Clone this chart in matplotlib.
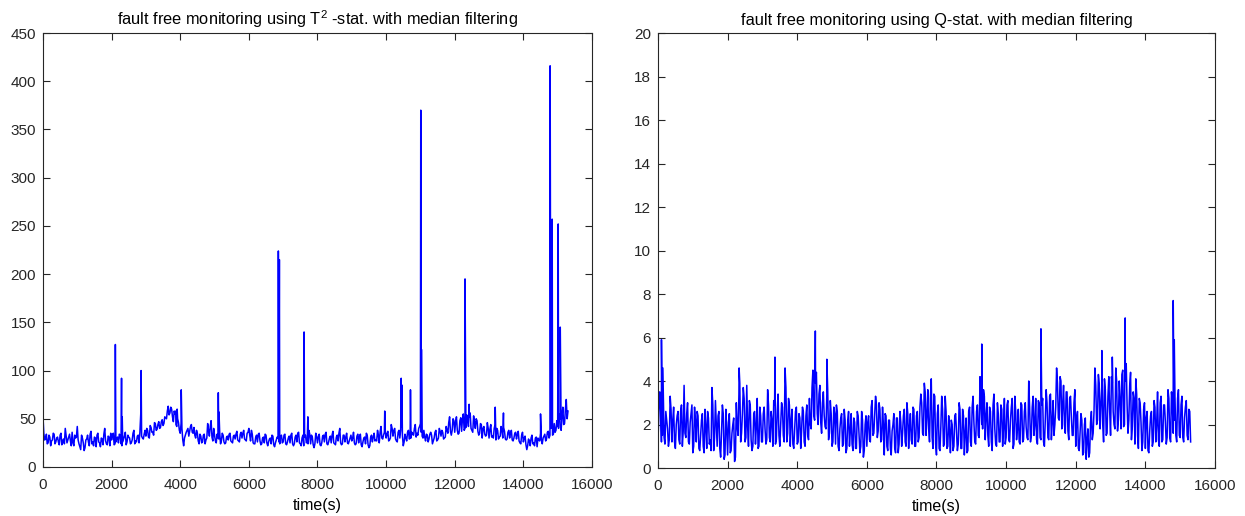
import numpy as np
import matplotlib
matplotlib.use('Agg')
import matplotlib.pyplot as plt

plt.rcParams['font.family'] = ['Liberation Sans', 'DejaVu Sans']
plt.rcParams['mathtext.fontset'] = 'custom'
plt.rcParams['mathtext.rm'] = 'Liberation Sans'

# sample step of the read-off series (s); "base" sits on 0, 50, 100 ...,
# "mid" on 25, 75, 125 ...
step = 50

# T^2 statistic (one row = 1000 s)
t2_base = [
    53, 28, 34, 25, 31, 27, 35, 24, 30, 26, 33, 23, 29, 40, 25, 31, 27, 36, 22, 30,
    42, 24, 18, 30, 17, 28, 33, 22, 37, 26, 31, 21, 35, 25, 30, 23, 40, 24, 32, 22,
    28, 35, 24, 30, 25, 33, 22, 29, 36, 26, 31, 24, 28, 38, 27, 32, 25, 55, 30, 34,
    32, 38, 30, 41, 36, 46, 38, 44, 40, 47, 43, 52, 50, 63, 56, 60, 47, 55, 42, 46,
    35, 40, 22, 33, 38, 32, 42, 36, 41, 30, 35, 24, 32, 26, 34, 28, 45, 32, 48, 27,
    33, 25, 30, 36, 27, 33, 24, 31, 28, 35, 26, 32, 29, 37, 27, 34, 30, 38, 28, 35,
    40, 27, 34, 24, 31, 26, 35, 23, 30, 25, 33, 22, 29, 24, 32, 21, 28, 30, 24, 33,
    26, 34, 23, 30, 25, 35, 22, 31, 26, 36, 24, 30, 22, 33, 26, 38, 24, 31, 20, 35,
    25, 34, 22, 32, 26, 36, 23, 30, 25, 37, 24, 31, 27, 40, 23, 33, 26, 35, 24, 30,
    27, 36, 23, 32, 25, 34, 21, 30, 24, 33, 20, 31, 26, 35, 28, 38, 25, 42, 29, 36,
    30, 37, 28, 44, 32, 40, 27, 36, 30, 42, 22, 34, 27, 38, 30, 36, 33, 44, 35, 40,
    45, 32, 38, 27, 33, 29, 36, 24, 30, 38, 28, 40, 32, 36, 30, 42, 35, 52, 33, 50,
    36, 52, 34, 48, 37, 55, 40, 54, 42, 56, 38, 53, 40, 48, 33, 45, 30, 42, 32, 46,
    30, 44, 32, 40, 28, 38, 31, 42, 30, 37, 28, 36, 30, 38, 27, 35, 29, 37, 25, 33,
    26, 32, 18, 29, 22, 33, 25, 30, 21, 28, 35, 24, 32, 27, 36, 30, 40, 33, 45, 38,
    42, 55, 38, 62, 45, 70, 58,
]
t2_mid = [
    35, 29, 24, 33, 22, 28, 34, 26, 31, 23, 35, 27, 24, 32, 28, 34, 22, 25, 33, 31,
    28, 21, 33, 25, 20, 29, 26, 34, 24, 22, 30, 33, 26, 21, 29, 34, 27, 23, 31, 35,
    33, 23, 26, 31, 34, 24, 26, 32, 23, 33, 30, 25, 35, 24, 26, 33, 36, 32, 29, 38,
    40, 31, 43, 36, 33, 45, 39, 47, 41, 49, 45, 51, 58, 54, 62, 52, 58, 44, 50, 38,
    45, 28, 30, 36, 40, 37, 44, 35, 33, 38, 27, 34, 25, 33, 24, 30, 38, 42, 31, 40,
    27, 34, 29, 24, 35, 26, 25, 32, 34, 27, 25, 33, 34, 28, 26, 36, 35, 29, 27, 36,
    33, 38, 25, 24, 33, 34, 27, 24, 31, 34, 25, 26, 30, 33, 23, 25, 31, 26, 32, 25,
    33, 24, 26, 32, 33, 24, 24, 33, 35, 25, 22, 33, 31, 25, 24, 34, 33, 23, 24, 32,
    31, 23, 25, 33, 34, 24, 26, 32, 33, 25, 23, 33, 35, 25, 24, 33, 31, 25, 27, 33,
    30, 25, 24, 34, 32, 23, 26, 31, 35, 23, 22, 33, 31, 27, 27, 33, 36, 30, 33, 38,
    34, 27, 30, 40, 38, 29, 26, 38, 38, 33, 26, 30, 36, 29, 30, 34, 40, 31, 33, 42,
    36, 30, 31, 34, 26, 34, 33, 27, 36, 27, 30, 37, 38, 29, 31, 38, 46, 37, 38, 48,
    47, 38, 35, 51, 50, 38, 41, 49, 52, 40, 36, 47, 50, 37, 35, 44, 40, 34, 33, 40,
    39, 31, 30, 44, 40, 29, 32, 38, 41, 29, 29, 38, 36, 28, 30, 36, 34, 27, 24, 36,
    30, 23, 22, 27, 30, 24, 22, 31, 30, 27, 28, 30, 34, 29, 37, 33, 42, 34, 36, 48,
    40, 50, 52, 44, 60, 50,
]
# isolated T^2 peaks
t2_spike_t = [2110, 2290, 2310, 2860, 3870, 3910, 4030, 5110, 5130, 6860, 6890,
              7610, 7720, 9960, 10440, 10460, 10710, 11010, 11030, 12300, 12420,
              13180, 13420, 14500, 14780, 14840, 15015, 15075]
t2_spike_v = [127, 92, 52, 100, 58, 60, 80, 77, 57, 224, 215,
              140, 52, 58, 92, 85, 80, 370, 122, 195, 65,
              62, 56, 55, 416, 257, 252, 145]

# Q statistic (one row = 1000 s)
q_base = [
    1.3, 3.5, 1.2, 3.6, 1.1, 2.2, 1.0, 3.3, 1.2, 2.8, 0.9, 2.4, 1.3, 2.6, 1.0, 3.8, 1.4, 3.0, 1.1, 2.5,
    0.7, 2.8, 1.2, 2.4, 0.8, 2.2, 1.0, 2.7, 0.9, 2.3, 1.3, 3.7, 0.8, 3.1, 1.0, 2.6, 0.5, 2.9, 0.4, 2.7,
    0.6, 2.5, 0.8, 2.0, 0.3, 3.0, 1.5, 3.9, 1.6, 3.7, 1.2, 3.8, 1.0, 2.9, 0.8, 2.5, 1.1, 3.2, 1.0, 2.4,
    1.2, 2.8, 1.1, 3.6, 1.4, 2.6, 1.0, 2.9, 1.3, 3.4, 1.0, 3.0, 1.5, 4.6, 1.2, 3.2, 1.0, 2.7, 0.9, 2.6,
    1.1, 2.5, 0.9, 2.8, 1.2, 2.4, 1.5, 3.2, 1.8, 4.5, 2.2, 4.4, 2.0, 3.8, 1.6, 3.5, 1.9, 3.4, 1.3, 3.1,
    1.0, 2.8, 1.1, 2.6, 0.8, 2.3, 1.0, 2.7, 0.7, 2.2, 1.0, 2.5, 0.8, 2.1, 0.9, 2.4, 0.7, 2.6, 0.5, 2.0,
    1.0, 2.4, 1.2, 3.1, 1.6, 3.3, 1.4, 3.0, 1.2, 2.8, 0.6, 2.4, 0.8, 2.2, 0.6, 2.0, 0.9, 2.3, 0.7, 2.6,
    1.0, 2.4, 1.2, 3.0, 0.9, 2.5, 1.1, 2.7, 1.0, 2.6, 1.4, 3.4, 1.6, 3.9, 1.5, 3.6, 1.2, 4.1, 0.9, 3.3,
    0.6, 2.9, 0.8, 3.3, 1.0, 3.3, 0.9, 2.4, 0.7, 2.0, 1.0, 2.5, 0.8, 3.0, 0.9, 2.7, 0.6, 2.3, 0.8, 2.8,
    1.0, 3.3, 1.2, 2.6, 1.5, 4.2, 2.0, 3.6, 1.3, 3.0, 1.0, 2.6, 0.8, 3.4, 1.1, 3.0, 1.2, 2.9, 1.0, 3.2,
    1.4, 3.1, 1.2, 2.8, 0.9, 3.3, 1.3, 2.7, 1.1, 2.9, 1.3, 3.0, 1.4, 4.0, 1.2, 2.8, 1.5, 3.2, 1.1, 3.0,
    1.3, 3.2, 1.0, 3.6, 1.4, 3.3, 1.3, 3.1, 2.0, 4.6, 2.3, 4.2, 1.8, 3.8, 1.6, 3.5, 1.3, 3.3, 1.5, 3.0,
    1.0, 2.6, 0.8, 2.5, 0.6, 2.0, 0.4, 1.8, 0.7, 2.6, 1.6, 4.6, 2.0, 4.3, 1.8, 3.8, 1.2, 3.6, 1.6, 4.2,
    1.5, 3.9, 2.0, 4.6, 1.7, 4.0, 1.8, 4.5, 2.0, 4.8, 1.6, 3.8, 1.3, 3.5, 1.1, 3.4, 0.9, 3.0, 0.8, 2.7,
    0.9, 2.6, 0.7, 2.4, 1.0, 3.1, 1.2, 3.5, 1.0, 3.3, 1.3, 2.9, 1.1, 3.6, 1.4, 3.5, 1.6, 3.3, 1.2, 3.6,
    1.4, 3.3, 1.2, 2.8, 1.5, 2.7, 1.2,
]
q_mid = [
    2.4, 2.9, 1.5, 1.4, 2.6, 1.8, 1.3, 2.7, 2.2, 1.2, 2.0, 2.6, 1.1, 2.9, 1.7, 1.6, 2.5, 1.2, 2.1, 2.9,
    1.0, 2.2, 2.6, 0.9, 1.5, 2.5, 0.7, 1.9, 2.6, 1.1, 0.8, 2.9, 1.4, 2.0, 2.4, 0.9, 1.6, 2.5, 0.6, 1.8,
    2.1, 0.7, 1.6, 2.3, 0.5, 1.9, 3.4, 1.2, 2.5, 3.2, 1.4, 1.9, 3.1, 1.3, 1.0, 2.6, 1.9, 0.9, 2.8, 1.2,
    2.5, 1.8, 1.3, 2.9, 1.2, 2.2, 3.1, 1.1, 2.6, 1.5, 2.0, 2.8, 1.2, 3.7, 1.6, 2.9, 2.2, 1.1, 1.7, 2.8,
    1.2, 2.3, 1.7, 2.6, 1.0, 2.9, 1.3, 2.0, 3.7, 2.4, 3.9, 2.5, 3.4, 2.1, 3.0, 2.4, 1.8, 3.6, 1.6, 2.5,
    1.2, 2.5, 2.9, 1.0, 1.8, 2.5, 1.1, 2.2, 0.9, 2.6, 1.7, 1.1, 2.3, 0.9, 2.6, 1.5, 1.0, 2.2, 0.8, 2.4,
    2.1, 1.3, 2.8, 1.5, 2.4, 2.9, 1.7, 2.7, 1.3, 2.0, 2.5, 1.0, 2.2, 0.9, 1.7, 2.5, 0.7, 2.3, 1.1, 2.1,
    1.6, 2.7, 1.0, 2.5, 1.9, 1.3, 2.8, 1.0, 2.4, 1.2, 2.8, 3.0, 1.5, 3.5, 2.4, 1.8, 3.2, 1.4, 3.4, 1.1,
    2.5, 0.9, 1.9, 2.7, 1.1, 2.6, 1.0, 1.7, 2.2, 0.8, 2.4, 1.6, 1.1, 2.7, 0.9, 2.4, 1.6, 0.7, 2.6, 1.2,
    2.8, 2.1, 1.1, 2.9, 1.4, 3.0, 1.8, 3.3, 2.4, 1.5, 2.8, 1.2, 2.9, 1.8, 1.0, 2.5, 1.2, 2.7, 1.9, 1.1,
    2.9, 1.3, 2.2, 3.2, 1.1, 2.6, 1.8, 1.2, 3.0, 1.2, 2.6, 1.9, 1.3, 2.8, 1.5, 3.3, 2.0, 1.3, 3.1, 1.4,
    2.9, 1.2, 2.2, 3.0, 1.3, 3.4, 2.1, 1.5, 2.8, 3.9, 2.2, 4.0, 2.9, 2.0, 3.5, 1.7, 3.2, 2.3, 1.5, 3.6,
    2.3, 0.9, 1.6, 2.2, 0.7, 2.3, 1.3, 0.5, 2.1, 1.3, 2.6, 3.8, 2.2, 3.9, 2.9, 2.0, 4.1, 1.5, 3.3, 2.6,
    4.2, 2.6, 1.8, 4.0, 2.2, 3.1, 4.3, 1.9, 4.0, 2.9, 2.2, 4.4, 1.9, 3.2, 4.1, 1.5, 3.2, 2.1, 1.2, 3.0,
    2.3, 0.8, 1.7, 2.6, 1.2, 2.8, 2.0, 1.3, 3.0, 1.2, 2.9, 2.1, 1.4, 3.2, 1.2, 3.0, 2.2, 1.5, 3.2, 1.5,
    2.9, 1.4, 2.3, 3.1, 1.3, 2.6,
]
# isolated Q peaks
q_spike_t = [100, 140, 2330, 3360, 4520, 4850, 9300, 11000, 12750, 13050, 13420, 14800, 14830]
q_spike_v = [5.9, 4.6, 4.6, 5.1, 6.3, 5.0, 5.7, 6.4, 5.4, 5.1, 6.9, 7.7, 5.9]


def merge(base, mid, spike_t, spike_v):
    t = np.concatenate([np.arange(len(base)) * step,
                        np.arange(len(mid)) * step + step / 2,
                        spike_t]).astype(float)
    v = np.concatenate([base, mid, spike_v]).astype(float)
    order = np.argsort(t, kind='stable')
    return t[order], v[order]


def matlab_axes(ax):
    ax.tick_params(direction='in', top=True, right=True, length=5, width=0.8,
                   labelsize=11, colors='#262626')
    ax.tick_params(axis='x', pad=8)
    ax.tick_params(axis='y', pad=5)
    for sp in ax.spines.values():
        sp.set_linewidth(0.8)
        sp.set_color('#262626')


fig = plt.figure(figsize=(12.45, 5.16), dpi=100)
ax1 = fig.add_axes([0.0345, 0.095, 0.441, 0.841])
ax2 = fig.add_axes([0.5285, 0.093, 0.4474, 0.843])

t, v = merge(t2_base, t2_mid, t2_spike_t, t2_spike_v)
ax1.plot(t, v, color='#0000ff', linewidth=1.1)
ax1.set_xlim(0, 16000)
ax1.set_ylim(0, 450)
ax1.set_xticks(np.arange(0, 16001, 2000))
ax1.set_yticks(np.arange(0, 451, 50))
ax1.set_title(r'fault free monitoring using $\mathregular{T^{2}}$ -stat. with median filtering',
              fontsize=11.8, pad=6)
ax1.set_xlabel('time(s)', fontsize=11.5, labelpad=4)
matlab_axes(ax1)

t, v = merge(q_base, q_mid, q_spike_t, q_spike_v)
ax2.plot(t, v, color='#0000ff', linewidth=1.1)
ax2.set_xlim(0, 16000)
ax2.set_ylim(0, 20)
ax2.set_xticks(np.arange(0, 16001, 2000))
ax2.set_yticks(np.arange(0, 21, 2))
ax2.set_title('fault free monitoring using Q-stat. with median filtering', fontsize=11.8, pad=6)
ax2.set_xlabel('time(s)', fontsize=11.5, labelpad=4)
matlab_axes(ax2)

fig.savefig('out.png', dpi=100)
